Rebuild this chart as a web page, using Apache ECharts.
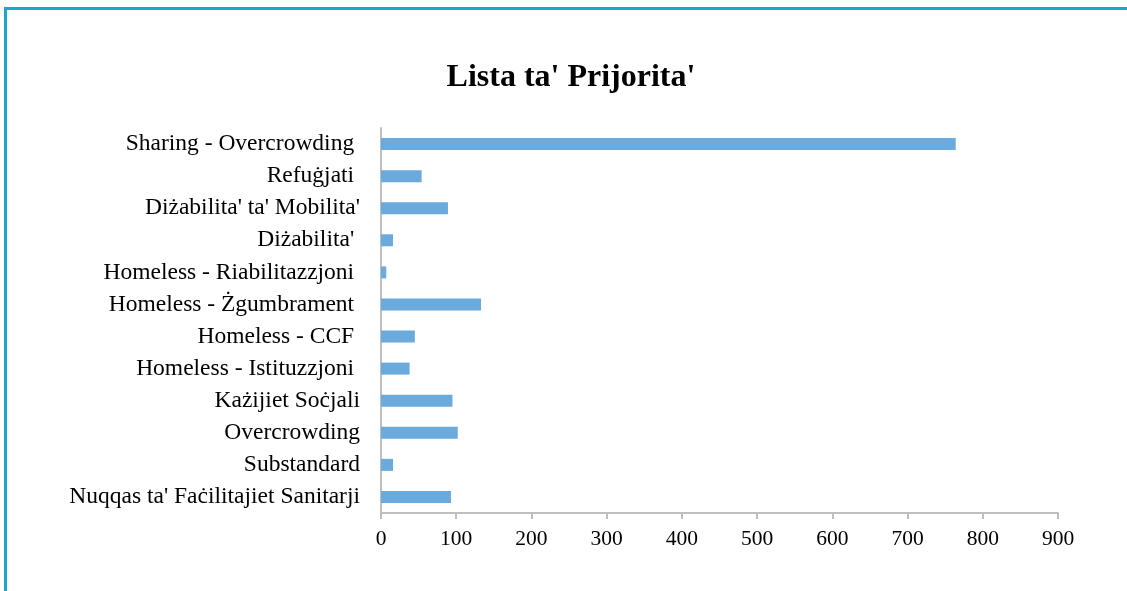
<!DOCTYPE html>
<html>
<head>
<meta charset="utf-8">
<script src="https://cdn.jsdelivr.net/npm/echarts@6/dist/echarts.min.js"></script>
<style>
  html, body { margin: 0; padding: 0; background: #fff; }
  #chart { width: 1127px; height: 591px; }
</style>
</head>
<body>
<div id="chart"></div>
<script>
// categories from bottom to top (as the y axis draws them)
const categories = [
  "Nuqqas ta' Faċilitajiet Sanitarji",
  'Substandard',
  'Overcrowding',
  'Każijiet Soċjali',
  'Homeless - Istituzzjoni ',
  'Homeless - CCF ',
  'Homeless - Żgumbrament ',
  'Homeless - Riabilitazzjoni ',
  "Diżabilita' ",
  "Diżabilita' ta' Mobilita'",
  'Refuġjati ',
  'Sharing - Overcrowding '
];
const values = [93, 16, 102, 95, 38, 45, 133, 7, 16, 89, 54, 764];
const xTicks = { min: 0, max: 900, step: 100 };

const serif = '"Liberation Serif", "DejaVu Serif", serif';

let myChart = echarts.init(document.getElementById('chart'));

const option = {
  animation: false,
  title: {
    text: "Lista ta' Prijorita'",
    left: 566,
    top: 57,
    textAlign: 'center',
    textStyle: { fontFamily: serif, fontSize: 32, fontWeight: 'bold', color: '#000' }
  },
  grid: { left: 381, right: 69, top: 128, height: 385 },
  xAxis: {
    type: 'value',
    min: xTicks.min,
    max: xTicks.max,
    interval: xTicks.step,
    axisLine: { show: true, lineStyle: { color: '#bfbfbf', width: 2 } },
    axisTick: { show: true, length: 6, lineStyle: { color: '#bfbfbf', width: 2 } },
    splitLine: { show: false },
    axisLabel: { margin: 15, fontFamily: serif, fontSize: 21.5, color: '#000' }
  },
  yAxis: {
    type: 'category',
    data: categories,
    axisLine: { show: true, lineStyle: { color: '#bfbfbf', width: 2 } },
    axisTick: { show: false },
    axisLabel: { margin: 21, padding: [4, 0, 0, 0], fontFamily: serif, fontSize: 23.5, color: '#000' }
  },
  series: [{
    type: 'bar',
    data: values,
    barWidth: 12,
    itemStyle: { color: '#6aaadc' }
  }],
  graphic: [{
    type: 'polyline',
    shape: { points: [[5.5, 591], [5.5, 8.5], [1127, 8.5]] },
    style: { stroke: '#18a8c8', lineWidth: 3, fill: null }
  }]
};

myChart.setOption(option);
window.onresize = function() {
  myChart.resize()
}
</script>
</body>
</html>
